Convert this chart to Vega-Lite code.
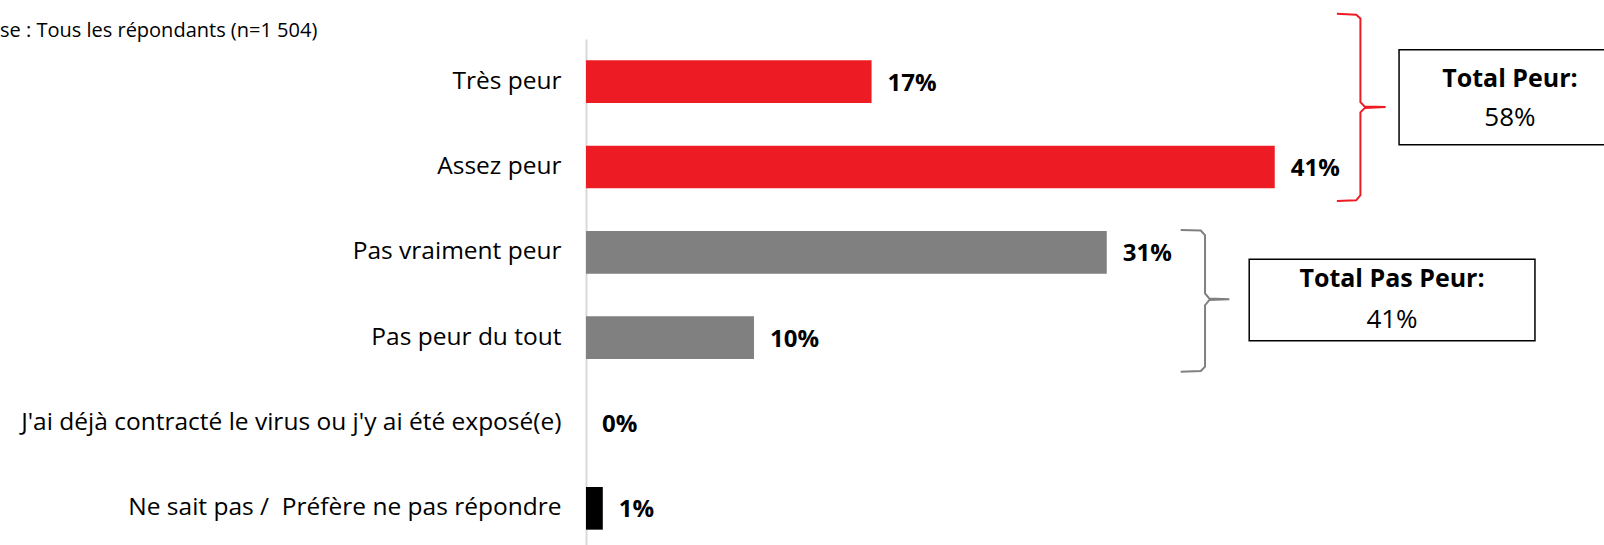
{
  "$schema": "https://vega.github.io/schema/vega-lite/v6.json",
  "autosize": "none",
  "width": 1018,
  "height": 512,
  "padding": {"left": 586, "top": 39, "right": 0, "bottom": 0},
  "background": "white",
  "config": {"view": {"stroke": null}, "font": "Open Sans"},
  "title": {"text": "se : Tous les répondants (n=1 504)", "anchor": "start", "frame": "group", "dx": -586, "dy": 37, "offset": 6, "fontSize": 20, "fontWeight": "normal", "font": "Open Sans", "color": "black"},
  "datasets": {
    "bars": [
      {"cat": "Très peur", "val": 0.17, "grp": "peur"},
      {"cat": "Assez peur", "val": 0.41, "grp": "peur"},
      {"cat": "Pas vraiment peur", "val": 0.31, "grp": "pas"},
      {"cat": "Pas peur du tout", "val": 0.10, "grp": "pas"},
      {"cat": "J'ai déjà contracté le virus ou j'y ai été exposé(e)", "val": 0.0, "grp": "autre"},
      {"cat": "Ne sait pas / \u00a0Préfère ne pas répondre", "val": 0.01, "grp": "autre"}
    ],
    "brackets": [
      {"g": "peur", "i": 1, "x": 0.447, "y": 0.205},
      {"g": "peur", "i": 2, "x": 0.4585, "y": 0.215},
      {"g": "peur", "i": 3, "x": 0.461, "y": 0.26},
      {"g": "peur", "i": 4, "x": 0.461, "y": 1.24},
      {"g": "peur", "i": 5, "x": 0.4635, "y": 1.29},
      {"g": "peur", "i": 6, "x": 0.476, "y": 1.298},
      {"g": "peur", "i": 7, "x": 0.4635, "y": 1.31},
      {"g": "peur", "i": 8, "x": 0.461, "y": 1.36},
      {"g": "peur", "i": 9, "x": 0.461, "y": 2.33},
      {"g": "peur", "i": 10, "x": 0.4585, "y": 2.39},
      {"g": "peur", "i": 11, "x": 0.447, "y": 2.397},
      {"g": "pas", "i": 1, "x": 0.354, "y": 2.737},
      {"g": "pas", "i": 2, "x": 0.366, "y": 2.745},
      {"g": "pas", "i": 3, "x": 0.3685, "y": 2.8},
      {"g": "pas", "i": 4, "x": 0.3685, "y": 3.48},
      {"g": "pas", "i": 5, "x": 0.371, "y": 3.54},
      {"g": "pas", "i": 6, "x": 0.383, "y": 3.549},
      {"g": "pas", "i": 7, "x": 0.371, "y": 3.56},
      {"g": "pas", "i": 8, "x": 0.3685, "y": 3.62},
      {"g": "pas", "i": 9, "x": 0.3685, "y": 4.34},
      {"g": "pas", "i": 10, "x": 0.366, "y": 4.39},
      {"g": "pas", "i": 11, "x": 0.354, "y": 4.398}
    ],
    "boxes": [
      {"x": 0.484, "x2": 0.616, "y": 0.627, "y2": 1.74},
      {"x": 0.3948, "x2": 0.5649, "y": 3.08, "y2": 4.035}
    ],
    "boxtitles": [
      {"t": "Total Peur:", "x": 0.55, "y": 0.967},
      {"t": "Total Pas Peur:", "x": 0.4798, "y": 3.311}
    ],
    "boxvalues": [
      {"t": "58%", "x": 0.55, "y": 1.425},
      {"t": "41%", "x": 0.4798, "y": 3.79}
    ]
  },
  "layer": [
    {
      "data": {"name": "bars"},
      "layer": [
        {
          "mark": {"type": "bar"},
          "encoding": {
            "y": {"field": "cat", "type": "nominal", "sort": null, "title": null,
              "scale": {"paddingInner": 0.5, "paddingOuter": 0.25},
              "axis": {"ticks": false, "labelPadding": 25, "labelFontSize": 24.5, "labelFont": "Open Sans", "labelColor": "black", "labelLimit": 0, "domainColor": "#d9d9d9", "domainWidth": 2, "grid": false}},
            "x": {"field": "val", "type": "quantitative", "scale": {"domain": [0, 0.606], "nice": false}, "axis": null},
            "color": {"field": "grp", "type": "nominal", "scale": {"domain": ["peur", "pas", "autre"], "range": ["#ED1C24", "#808080", "#000000"]}, "legend": null}
          }
        },
        {
          "mark": {"type": "text", "align": "left", "baseline": "middle", "dx": 16, "dy": 2, "fontSize": 24, "fontWeight": "bold", "font": "Open Sans", "color": "black"},
          "encoding": {
            "y": {"field": "cat", "type": "nominal", "sort": null},
            "x": {"field": "val", "type": "quantitative"},
            "text": {"field": "val", "type": "quantitative", "format": ".0%"},
            "detail": {"field": "grp"}
          }
        }
      ]
    },
    {
      "layer": [
        {
          "data": {"name": "brackets"},
          "mark": {"type": "line", "strokeWidth": 2, "interpolate": "linear"},
          "encoding": {
            "x": {"field": "x", "type": "quantitative"},
            "y": {"field": "y", "type": "quantitative", "scale": {"domain": [0.5, 6.5], "reverse": true, "nice": false, "zero": false}, "axis": null},
            "order": {"field": "i", "type": "quantitative"},
            "detail": {"field": "g"},
            "color": {"field": "g", "type": "nominal", "scale": {"domain": ["peur", "pas"], "range": ["#ED1C24", "#808080"]}, "legend": null}
          }
        },
        {
          "data": {"name": "boxes"},
          "mark": {"type": "rect", "fill": "white", "stroke": "black", "strokeWidth": 1.5},
          "encoding": {
            "x": {"field": "x", "type": "quantitative"},
            "x2": {"field": "x2"},
            "y": {"field": "y", "type": "quantitative"},
            "y2": {"field": "y2"}
          }
        },
        {
          "data": {"name": "boxtitles"},
          "mark": {"type": "text", "align": "center", "baseline": "middle", "fontSize": 25, "fontWeight": "bold", "font": "Open Sans", "color": "black"},
          "encoding": {
            "x": {"field": "x", "type": "quantitative"},
            "y": {"field": "y", "type": "quantitative"},
            "text": {"field": "t"}
          }
        },
        {
          "data": {"name": "boxvalues"},
          "mark": {"type": "text", "align": "center", "baseline": "middle", "fontSize": 26, "font": "Open Sans", "color": "black"},
          "encoding": {
            "x": {"field": "x", "type": "quantitative"},
            "y": {"field": "y", "type": "quantitative"},
            "text": {"field": "t"}
          }
        }
      ]
    }
  ],
  "resolve": {"scale": {"y": "independent", "color": "independent"}, "axis": {"y": "independent"}}
}
